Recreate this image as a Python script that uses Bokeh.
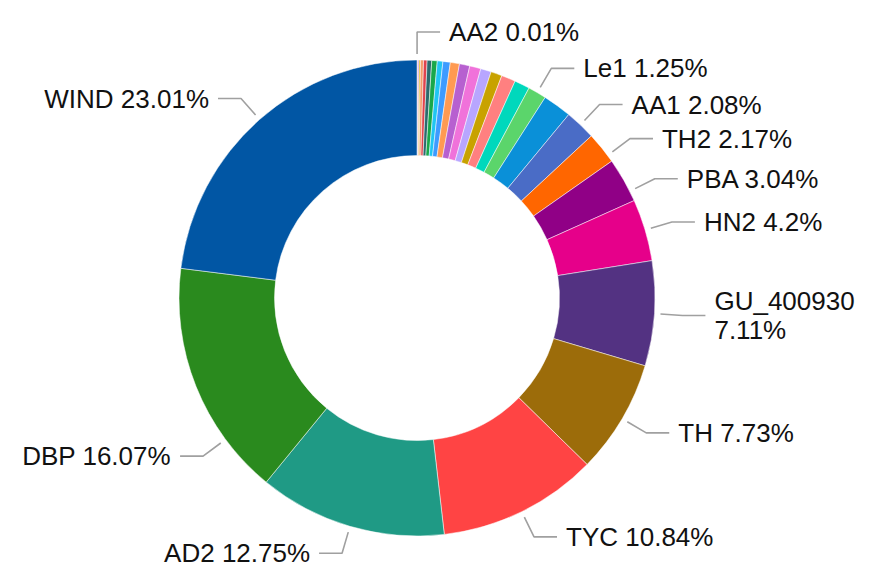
import math
from bokeh.plotting import figure
from bokeh.models import ColumnDataSource, Range1d
from bokeh.core.properties import value
from bokeh.embed import file_html
from bokeh.resources import INLINE

# ---- data (clockwise from 12 o'clock) ----
names = ["AA2", "s01", "s02", "s03", "s04", "s05", "s06", "s07", "s08", "s09",
         "s10", "s11", "s12", "s13", "s14", "s15", "s16", "Le1", "s17",
         "AA1", "TH2", "PBA", "HN2", "GU_400930", "TH", "TYC", "AD2", "DBP", "WIND"]
values = [0.01, 0.06, 0.07, 0.095, 0.205, 0.24, 0.31, 0.37, 0.38, 0.50,
          0.62, 0.70, 0.76, 0.72, 0.76, 0.96, 1.04, 1.25, 1.95,
          2.08, 2.17, 3.04, 4.2, 7.11, 7.73, 10.84, 12.75, 16.07, 23.01]
colors = ["#E86FA6", "#E86FA6", "#9C6FD6", "#E0B000", "#F39C6B", "#E0434D", "#2C6B6E",
          "#19A84A", "#20C5F2", "#3D9BFF", "#FF9A52", "#B760D0", "#F072DA", "#B8A6FF",
          "#C8A200", "#FF8080", "#00D8BC", "#5BD56B", "#0A90D8",
          "#4A6CC6", "#FF6600", "#900086", "#E6008A", "#533282", "#9C6C0A",
          "#FF4444", "#1F9A85", "#2A8A1E", "#0156A4"]
labeled = ["AA2", "Le1", "AA1", "TH2", "PBA", "HN2", "GU_400930", "TH", "TYC", "AD2", "DBP", "WIND"]
label_shift = {"DBP": -14.7, "PBA": 3.0, "TH2": 2.2}   # label-line angle nudges (deg)
wrapped = ["GU_400930"]

# ---- layout ----
W, H = 863, 569
cx, cy = 416.5, 271.5
r_out, r_in = 238.0, 142.5
r_l1, r_l2, h_len, gap = 244.0, 266.0, 23.0, 9.0

total = sum(values)
starts, ends = [], []
acc = 0.0
for v in values:
    starts.append(math.pi / 2 - 2 * math.pi * acc / total)
    acc += v
    ends.append(math.pi / 2 - 2 * math.pi * acc / total)

p = figure(width=W, height=H, x_range=Range1d(0, W), y_range=Range1d(0, H),
           output_backend="svg", toolbar_location=None, min_border=0,
           x_axis_location=None, y_axis_location=None)
p.grid.visible = False
p.outline_line_color = None
p.background_fill_color = "white"

src = ColumnDataSource(dict(start=starts, end=ends, color=colors, name=names))
p.annular_wedge(x=cx, y=cy, inner_radius=r_in, outer_radius=r_out,
                start_angle="start", end_angle="end", direction="clock",
                fill_color="color", line_color="white", line_width=0.5, source=src)

xs, ys = [], []
tx, ty, tt, ta = [], [], [], []
acc = 0.0
for n, v in zip(names, values):
    mid = acc + v / 2
    acc += v
    if n not in labeled:
        continue
    th = math.radians(mid / total * 360 + label_shift.get(n, 0.0))
    s, c = math.sin(th), math.cos(th)
    x1, y1 = cx + r_l1 * s, cy + r_l1 * c
    x2, y2 = cx + r_l2 * s, cy + r_l2 * c
    d = 1 if s >= 0 else -1
    x3 = x2 + d * h_len
    xs.append([x1, x2, x3])
    ys.append([y1, y2, y2])
    txt = f"{n} {v:g}%"
    if n in wrapped:
        txt = f"{n}\n{v:g}%"
    tx.append(x3 + d * gap)
    ty.append(y2)
    tt.append(txt)
    ta.append("left" if d > 0 else "right")

p.multi_line(xs=xs, ys=ys, line_color="#A0A0A0", line_width=1.6)
p.text(x=tx, y=ty, text=tt, text_align=ta, text_baseline="middle",
       text_font=value("Liberation Sans"), text_font_size="26px",
       text_color="#111111", text_line_height=0.98)

open("out.html", "w").write(file_html(p, INLINE))
